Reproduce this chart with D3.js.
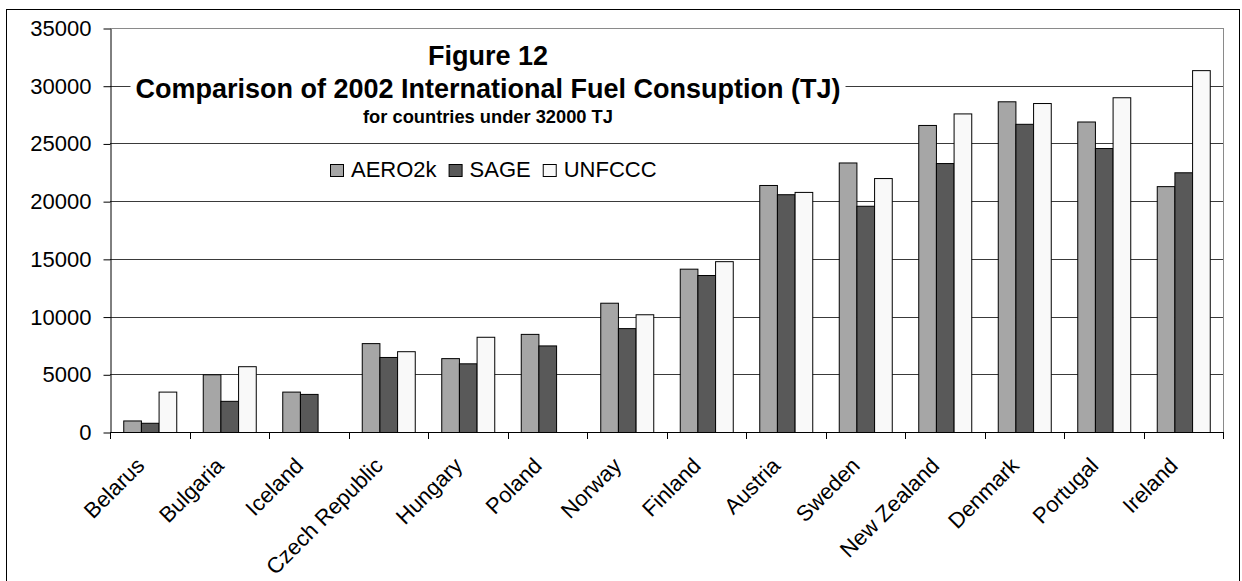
<!DOCTYPE html>
<html>
<head>
<meta charset="utf-8">
<script src="https://cdn.jsdelivr.net/npm/d3@7"></script>
<style>
  body { margin: 0; background: #fff; }
  svg { font-family: "Liberation Sans", Arial, sans-serif; }
</style>
</head>
<body>
<script>

// data (TJ)
const countries = ["Belarus", "Bulgaria", "Iceland", "Czech Republic", "Hungary", "Poland", "Norway",
    "Finland", "Austria", "Sweden", "New Zealand", "Denmark", "Portugal", "Ireland"];
const aero2k = [1000, 5000, 3500, 7700, 6400, 8500, 11200, 14150, 21400, 23350, 26600, 28650, 26900, 21300];
const sage   = [800, 2700, 3300, 6500, 5950, 7500, 9000, 13600, 20600, 19600, 23300, 26700, 24600, 22500];
const unfccc = [3500, 5700, null, 7000, 8250, null, 10200, 14800, 20800, 22000, 27600, 28500, 29000, 31350];

const seriesNames = ["AERO2k", "SAGE", "UNFCCC"];
const seriesColors = ["#a6a6a6", "#595959", "#f9f9f9"];
const yTicks = [0, 5000, 10000, 15000, 20000, 25000, 30000, 35000];

const titleLines = ["Figure 12", "Comparison of 2002 International Fuel Consuption (TJ)", "for countries under 32000 TJ"];

// layout
const W = 1242, H = 581;
const plot = {left: 110, top: 28, right: 1223, bottom: 432};

const svg = d3.select("body").append("svg")
    .attr("width", W)
    .attr("height", H);

svg.append("rect").attr("width", W).attr("height", H).attr("fill", "#fff");

// outer chart border
svg.append("rect")
    .attr("x", 6.5).attr("y", 9.5)
    .attr("width", 1233).attr("height", 620)
    .attr("fill", "none")
    .attr("stroke", "#000");

// scales
const x0 = d3.scaleBand()
    .domain(countries)
    .range([plot.left, plot.right])
    .padding(0);

const x1 = d3.scaleBand()
    .domain(seriesNames)
    .range([0, x0.bandwidth()])
    .paddingInner(0)
    .paddingOuter(0.75);

const y = d3.scaleLinear()
    .domain([0, 35000])
    .range([plot.bottom, plot.top]);

const color = d3.scaleOrdinal().domain(seriesNames).range(seriesColors);

// gridlines
svg.append("g").attr("class", "grid")
    .selectAll("line")
    .data(yTicks.filter(d => d > 0))
    .join("line")
    .attr("x1", plot.left).attr("x2", plot.right)
    .attr("y1", d => Math.round(y(d)) + 0.5)
    .attr("y2", d => Math.round(y(d)) + 0.5)
    .attr("stroke", d => d === 35000 ? "#8a8a8a" : "#3a3a3a");

// right edge of plot area
svg.append("line")
    .attr("x1", plot.right + 0.5).attr("x2", plot.right + 0.5)
    .attr("y1", plot.top).attr("y2", plot.bottom)
    .attr("stroke", "#8a8a8a");

// bars
const rows = countries.map((c, i) => ({
    country: c,
    values: [aero2k[i], sage[i], unfccc[i]]
}));

svg.append("g").attr("class", "bars")
    .selectAll("g")
    .data(rows)
    .join("g")
    .attr("transform", d => `translate(${x0(d.country)},0)`)
    .selectAll("rect")
    .data(d => seriesNames.map((s, k) => ({key: s, value: d.values[k]})).filter(v => v.value != null))
    .join("rect")
    .attr("x", d => x1(d.key) + 0.5)
    .attr("y", d => y(d.value) + 0.5)
    .attr("width", x1.bandwidth())
    .attr("height", d => y(0) - y(d.value))
    .attr("fill", d => color(d.key))
    .attr("stroke", "#000")
    .attr("stroke-width", 1);

// y axis
const yAxis = svg.append("g")
    .attr("transform", `translate(${plot.left + 0.5},0.5)`)
    .call(d3.axisLeft(y).tickValues(yTicks).tickSize(7).tickSizeOuter(0).tickPadding(12).tickFormat(d3.format("d")));
yAxis.select(".domain").attr("stroke", "#000");
yAxis.selectAll(".tick line").attr("stroke", "#000");
yAxis.selectAll("text")
    .attr("font-size", 22)
    .attr("fill", "#000")
    .style("font-family", "'Liberation Sans', Arial, sans-serif");

// x axis line + boundary ticks
const xAxis = svg.append("g").attr("class", "x-axis");
xAxis.append("line")
    .attr("x1", plot.left).attr("x2", plot.right + 1)
    .attr("y1", plot.bottom + 0.5).attr("y2", plot.bottom + 0.5)
    .attr("stroke", "#000");
xAxis.selectAll(".xtick")
    .data(countries.map(c => x0(c)).concat([plot.right]))
    .join("line")
    .attr("class", "xtick")
    .attr("x1", d => Math.round(d) + 0.5).attr("x2", d => Math.round(d) + 0.5)
    .attr("y1", plot.bottom).attr("y2", plot.bottom + 7)
    .attr("stroke", "#000");

// rotated category labels
xAxis.selectAll(".xlabel")
    .data(countries)
    .join("text")
    .attr("class", "xlabel")
    .attr("transform", d => `translate(${x0(d) + x0.bandwidth() / 2 - 4},${plot.bottom + 35}) rotate(-45)`)
    .attr("text-anchor", "end")
    .attr("font-size", 22)
    .attr("fill", "#000")
    .text(d => d);

// title block with white background
const titleG = svg.append("g").attr("class", "title");
const titleBg = titleG.append("rect").attr("fill", "#fff");
const titleY = [65, 98, 123];
const titleSize = [27, 27, 18.3];
titleG.selectAll("text")
    .data(titleLines)
    .join("text")
    .attr("x", 488)
    .attr("y", (d, i) => titleY[i])
    .attr("text-anchor", "middle")
    .attr("font-weight", "bold")
    .attr("font-size", (d, i) => titleSize[i])
    .attr("fill", "#000")
    .text(d => d);
const tb = titleG.node().getBBox();
titleBg.attr("x", tb.x - 5).attr("y", tb.y - 4).attr("width", tb.width + 10).attr("height", tb.height + 8);

// legend
const legend = svg.append("g").attr("class", "legend");
let lx = 330;
seriesNames.forEach(s => {
    legend.append("rect")
        .attr("x", lx + 0.5).attr("y", 164.5)
        .attr("width", 13).attr("height", 12)
        .attr("fill", color(s))
        .attr("stroke", "#000");
    const t = legend.append("text")
        .attr("x", lx + 21)
        .attr("y", 177)
        .attr("font-size", 22)
        .attr("fill", "#000")
        .text(s);
    lx += 21 + t.node().getComputedTextLength() + 12;
});

</script>
</body>
</html>
